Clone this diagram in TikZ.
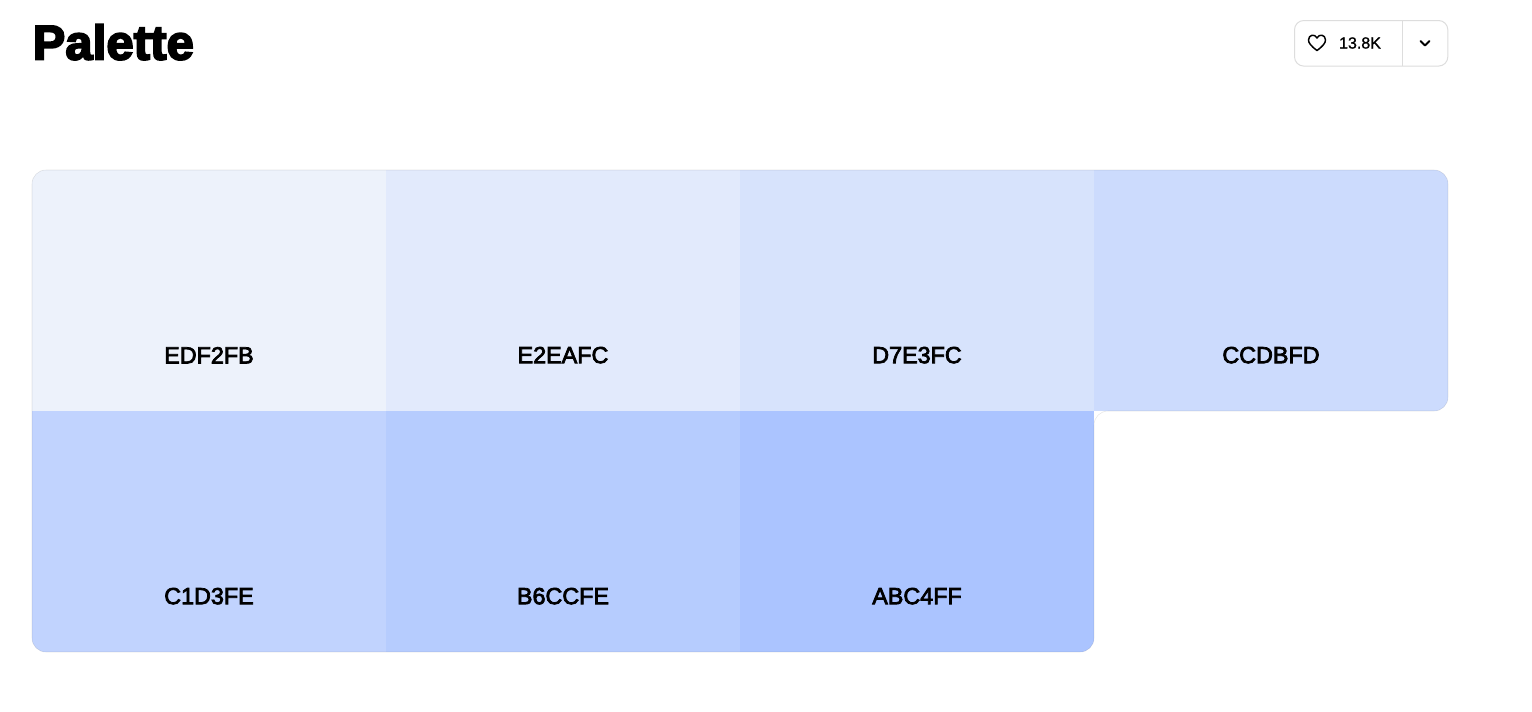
\documentclass[tikz,border=0pt]{standalone}
\usepackage{fontspec}
\setmainfont{Liberation Sans}
\newfontfamily\hexfont[FakeBold=3.2]{Liberation Sans}
\newfontfamily\countfont[FakeBold=1.2]{Liberation Sans}
\newfontfamily\titlefont[FakeBold=4,LetterSpace=0.5]{Liberation Sans Bold}
\usepackage{xcolor}
\usetikzlibrary{positioning}
\definecolor{swatchA}{HTML}{EDF2FB}
\definecolor{swatchB}{HTML}{E2EAFC}
\definecolor{swatchC}{HTML}{D7E3FC}
\definecolor{swatchD}{HTML}{CCDBFD}
\definecolor{swatchE}{HTML}{C1D3FE}
\definecolor{swatchF}{HTML}{B6CCFE}
\definecolor{swatchG}{HTML}{ABC4FF}
\definecolor{rulegray}{HTML}{DDDDDD}
\begin{document}
\begin{tikzpicture}[x=0.75pt,y=-0.75pt,font=\hexfont\fontsize{17.5pt}{20pt}\selectfont,node distance=0pt]
\tikzset{swatch/.style={minimum width=265.5pt,minimum height=180.75pt,inner sep=0pt,outer sep=0pt}, hexlabel/.style={text=black,inner sep=0pt}, likebox/.style={draw=rulegray,line width=0.75pt,rounded corners=7pt,fill=white,minimum width=115pt,minimum height=34.2pt,inner sep=0pt,outer sep=0pt}}
\useasboundingbox (0,0) rectangle (1532,711);
\fill[white] (0,0) rectangle (1532,711);
\node[anchor=base west,inner sep=0pt,font=\titlefont\fontsize{36.5pt}{37pt}\selectfont] (title) at (32.5,59.5) {Palette};
% swatches, clipped to the rounded outline
\begin{scope}
\clip[rounded corners=10.5pt] (32,170) -- (1448,170) -- (1448,411) -- (1094,411) -- (1094,652) -- (32,652) -- cycle;
\node[swatch,fill=swatchA,anchor=north west] (edf) at (32,170) {};
\node[swatch,fill=swatchB,right=of edf] (e2e) {};
\node[swatch,fill=swatchC,right=of e2e] (d7e) {};
\node[swatch,fill=swatchD,right=of d7e] (ccd) {};
\node[swatch,fill=swatchE,below=of edf] (c1d) {};
\node[swatch,fill=swatchF,right=of c1d] (b6c) {};
\node[swatch,fill=swatchG,right=of b6c] (abc) {};
\end{scope}
\draw[black,opacity=0.1,rounded corners=10.5pt] (32,170) -- (1448,170) -- (1448,411) -- (1094,411) -- (1094,652) -- (32,652) -- cycle;
\node[hexlabel,above=35.5pt of edf.south] (edflabel) {EDF2FB};
\node[hexlabel,above=35.5pt of e2e.south] (e2elabel) {E2EAFC};
\node[hexlabel,above=35.5pt of d7e.south] (d7elabel) {D7E3FC};
\node[hexlabel,above=35.5pt of ccd.south] (ccdlabel) {CCDBFD};
\node[hexlabel,above=35.5pt of c1d.south] (c1dlabel) {C1D3FE};
\node[hexlabel,above=35.5pt of b6c.south] (b6clabel) {B6CCFE};
\node[hexlabel,above=35.5pt of abc.south] (abclabel) {ABC4FF};
% like button
\node[likebox,anchor=north west] (like) at (1294.5,20.5) {};
\draw[rulegray,line width=0.75pt] (like.north west -| 1402,0) -- (like.south west -| 1402,0);
\node[inner sep=0pt,font=\countfont\fontsize{12pt}{14pt}\selectfont] (count) at (1360,43) {13.8K};
\draw[black,line width=1.1pt,line join=round] (1317,50.5) .. controls (1311,46) and (1308.5,43) .. (1308.5,40) .. controls (1308.5,34.5) and (1315,33.5) .. (1317,38) .. controls (1319,33.5) and (1325.5,34.5) .. (1325.5,40) .. controls (1325.5,43) and (1323,46) .. (1317,50.5) -- cycle;
\draw[black,line width=1.5pt,line cap=round,line join=round] (1420.5,41) -- (1425,45.5) -- (1429.5,41);
\end{tikzpicture}
\end{document}
